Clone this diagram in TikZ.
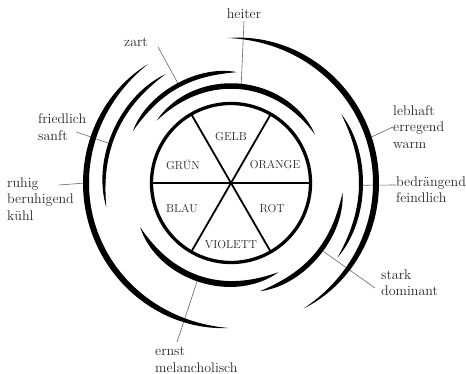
\documentclass[tikz,border=0pt]{standalone}
\usepackage{fontspec}
\usetikzlibrary{calc}

\tikzset{
  lbl/.style={align=left, anchor=west, inner sep=0pt, text=black!85, font=\fontsize{14}{16.5}\selectfont},
  farbe/.style={inner sep=0pt, text=black!85, font=\fontsize{11.5}{13}\selectfont},
  zeiger/.style={draw=black!60, line width=0.6pt}
}

% tapered brush stroke: radius, start angle, end angle, max width
\newcommand{\pinsel}[4]{%
  \fill plot[domain=0:1, samples=60, smooth, variable=\t] ({#2+(#3-#2)*\t}:{#1+#4/2*taper(\t)})
    -- plot[domain=1:0, samples=60, smooth, variable=\t] ({#2+(#3-#2)*\t}:{#1-#4/2*taper(\t)}) -- cycle;}

\begin{document}
\begin{tikzpicture}[x=1pt, y=1pt,
    declare function={taper(\t)=1-(2*\t-1)*(2*\t-1)*(2*\t-1)*(2*\t-1);}]
  \useasboundingbox (-231,-191) rectangle (235,183);

  % colour wheel
  \draw[line width=3.3pt] (0,0) circle (79.5pt);
  \foreach \a in {0,60,120}
    \draw[line width=1.8pt] (\a:79.5) -- ({\a+180}:79.5);
  \node[farbe] (gelb) at (0,46) {GELB};
  \node[farbe] (orange) at (44,18) {ORANGE};
  \node[farbe] (rot) at (41,-26) {ROT};
  \node[farbe] (violett) at (0,-62) {VIOLETT};
  \node[farbe] (blau) at (-49,-26) {BLAU};
  \node[farbe] (gruen) at (-48,18) {GRÜN};

  % points on the strokes
  \coordinate (p-heiter) at (84:97);
  \coordinate (p-zart) at (118:111);
  \coordinate (p-friedlich) at (162:127);
  \coordinate (p-ruhig) at (180:145);
  \coordinate (p-lebhaft) at (18:145);
  \coordinate (p-bedr) at (-1:130);
  \coordinate (p-stark) at (-36.5:115);
  \coordinate (p-ernst) at (251:104);

  % labels
  \node[lbl, anchor=center] (heiter) at (13,169) {heiter};
  \node[lbl, anchor=center] (zart) at (-95,141) {zart};
  \node[lbl] (friedlich) at (-193,56) {friedlich\\sanft};
  \node[lbl] (ruhig) at (-224,-16) {ruhig\\beruhigend\\kühl};
  \node[lbl] (lebhaft) at (162,56) {lebhaft\\erregend\\warm};
  \node[lbl] (bedr) at (165,-6.5) {bedrängend\\feindlich};
  \node[lbl] (stark) at (150,-99.5) {stark\\dominant};
  \node[lbl] (ernst) at (-76,-177) {ernst\\melancholisch};

  \draw[zeiger] ([yshift=-2pt]heiter.south) -- (p-heiter);
  \draw[zeiger] ([xshift=10pt,yshift=-5pt]zart.east) -- (p-zart);
  \draw[zeiger] ([xshift=-10pt,yshift=-5pt]friedlich.east) -- (p-friedlich);
  \draw[zeiger] ([xshift=-15pt,yshift=14pt]ruhig.east) -- (p-ruhig);
  \draw[zeiger] (lebhaft.west) -- (p-lebhaft);
  \draw[zeiger] ([yshift=4.5pt]bedr.west) -- (p-bedr);
  \draw[zeiger] ([xshift=-6pt,yshift=-5.5pt]stark.west) -- (p-stark);
  \draw[zeiger] ([xshift=22pt,yshift=5pt]ernst.north west) -- (p-ernst);

  % brush strokes
  \pinsel{97}{30}{140}{5.5}
  \pinsel{101}{206}{298}{6}
  \pinsel{111}{87}{152}{4.5}
  \pinsel{127}{121}{191}{4}
  \pinsel{145}{125}{269}{6}
  \pinsel{112}{285}{355}{5}
  \pinsel{130}{-35}{32}{4}
  \pinsel{145}{-60}{91}{6}
\end{tikzpicture}
\end{document}
